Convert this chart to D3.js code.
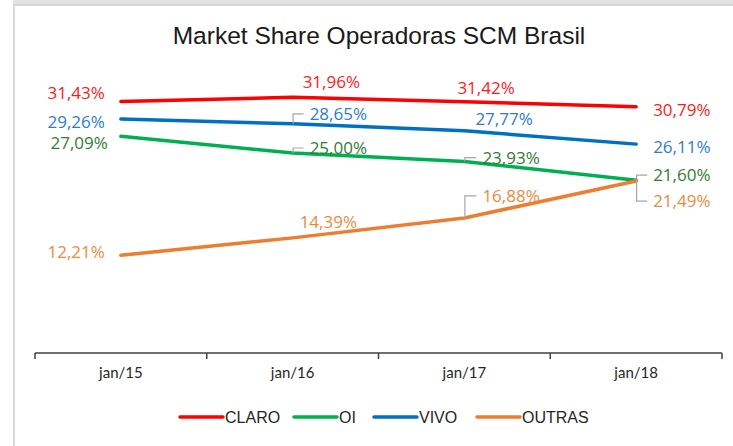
<!DOCTYPE html>
<html>
<head>
<meta charset="utf-8">
<script src="https://cdn.jsdelivr.net/npm/d3@7"></script>
<style>
  html, body { margin: 0; padding: 0; background: #ffffff; }
  svg { display: block; }
</style>
</head>
<body>
<script>
// ---- data ----
const categories = ["jan/15", "jan/16", "jan/17", "jan/18"];
const seriesNames = ["CLARO", "OI", "VIVO", "OUTRAS"];
const claro  = [31.43, 31.96, 31.42, 30.79];
const oi     = [27.09, 25.00, 23.93, 21.60];
const vivo   = [29.26, 28.65, 27.77, 26.11];
const outras = [12.21, 14.39, 16.88, 21.49];
const title = "Market Share Operadoras SCM Brasil";

// ---- styling / layout ----
const W = 733, H = 446;
const lineColors  = { CLARO: "#ff0000", OI: "#00b050", VIVO: "#0070c0", OUTRAS: "#ed7d31" };
const labelColors = { CLARO: "#ff1a1a", OI: "#2f7d32", VIVO: "#2e7cd0", OUTRAS: "#ef8a3c" };

// label offsets per series per point [dx, dy, anchor, leader]
const labelLayout = {
  CLARO:  [[-16, -3, "end", false], [10, -9, "start", false], [-7, -8, "start", false], [17, 9, "start", false]],
  VIVO:   [[-16, 9, "end", false], [17, -4, "start", true], [11, -6, "start", false], [17, 9, "start", false]],
  OI:     [[-13, 13, "end", false], [17, 1, "start", true], [18, 2, "start", true], [17, 1, "start", true]],
  OUTRAS: [[-16, 3, "end", false], [7, -10, "start", false], [18, -16, "start", true], [17, 26, "start", true]]
};

const seriesData = { CLARO: claro, OI: oi, VIVO: vivo, OUTRAS: outras };

const svg = d3.select("body").append("svg").attr("width", W).attr("height", H);

// chart frame (border/shadow)
svg.append("rect").attr("x", 13).attr("y", 0).attr("width", W - 13).attr("height", 6).attr("fill", "#e3e3e3");
svg.append("rect").attr("x", 13).attr("y", 4).attr("width", W - 13).attr("height", 2).attr("fill", "#d6d6d6");
svg.append("rect").attr("x", 13).attr("y", 6).attr("width", 2).attr("height", H - 6).attr("fill", "#d9d9d9");

// title
svg.append("text")
  .attr("x", 379).attr("y", 44)
  .attr("text-anchor", "middle")
  .attr("font-family", "'Liberation Sans Narrow', 'Liberation Sans', Arial, sans-serif")
  .attr("font-size", 24.5)
  .attr("fill", "#1a1a1a")
  .text(title);

// scales
const x = d3.scaleBand().domain(categories).range([35, 722]);
const y = d3.scaleLinear().domain([0, 35]).range([353, 73]);
const cx = c => x(c) + x.bandwidth() / 2;

// x axis
const xAxis = d3.axisBottom(x).tickSize(0).tickPadding(14);
const gx = svg.append("g").attr("transform", "translate(0,353)").call(xAxis);
gx.select(".domain").remove();
gx.append("line").attr("x1", 35).attr("x2", 722).attr("y1", 0).attr("y2", 0)
  .attr("stroke", "#404040").attr("stroke-width", 1.5);
const tickXs = categories.map(c => x(c)).concat([x.range()[1]]);
gx.selectAll("line.tk").data(tickXs).enter().append("line").attr("class", "tk")
  .attr("x1", d => d).attr("x2", d => d).attr("y1", 0).attr("y2", 6)
  .attr("stroke", "#404040").attr("stroke-width", 1.5);
gx.selectAll(".tick text")
  .attr("font-family", "Lato, 'Open Sans', sans-serif")
  .attr("font-size", 15)
  .attr("fill", "#262626");

// lines
const line = d3.line().x((d, i) => cx(categories[i])).y(d => y(d));
const drawOrder = ["CLARO", "VIVO", "OI", "OUTRAS"];
drawOrder.forEach(name => {
  svg.append("path").datum(seriesData[name])
    .attr("d", line)
    .attr("fill", "none")
    .attr("stroke", lineColors[name])
    .attr("stroke-width", 3.5)
    .attr("stroke-linecap", "round")
    .attr("stroke-linejoin", "round");
});

// labels
const fmt = v => v.toFixed(2).replace(".", ",") + "%";
drawOrder.forEach(name => {
  seriesData[name].forEach((v, i) => {
    const [dx, dy, anchor, leader] = labelLayout[name][i];
    const px = cx(categories[i]), py = y(v);
    const lx = px + dx, ly = py + dy;
    if (leader) {
      svg.append("path")
        .attr("d", `M${px + 0.5},${py} V${ly - 6} H${lx - 6}`)
        .attr("fill", "none").attr("stroke", "#a6a6a6").attr("stroke-width", 1.2);
    }
    svg.append("text")
      .attr("x", lx).attr("y", ly)
      .attr("text-anchor", anchor)
      .attr("font-family", "'Open Sans', Lato, sans-serif")
      .attr("font-size", 17)
      .attr("fill", labelColors[name])
      .text(fmt(v));
  });
});

// legend
const legendX = [180, 294, 374, 477];
const lg = svg.append("g");
seriesNames.forEach((name, i) => {
  const g = lg.append("g").attr("transform", `translate(${legendX[i]},417)`);
  g.append("line").attr("x1", 0).attr("x2", 43).attr("y1", 0).attr("y2", 0)
    .attr("stroke", lineColors[name]).attr("stroke-width", 3.5).attr("stroke-linecap", "round");
  g.append("text").attr("x", 45).attr("y", 6)
    .attr("font-family", "'Liberation Sans Narrow', 'Liberation Sans', sans-serif")
    .attr("font-size", 16).attr("fill", "#262626").text(name);
});
</script>
</body>
</html>
